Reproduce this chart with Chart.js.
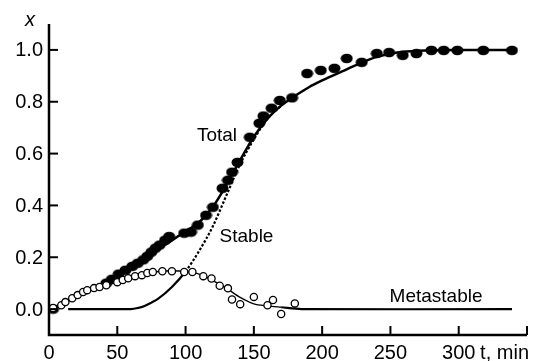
<!DOCTYPE html>
<html>
<head>
<meta charset="utf-8">
<script src="https://cdn.jsdelivr.net/npm/chart.js@4"></script>
<style>
  body { margin: 0; background: white; }
  #graph { width: 539px; height: 361px; }
</style>
</head>
<body>
<div id="graph"><canvas id="c" width="539" height="361"></canvas></div>
<script>
// total (filled points)
const totalT = [3, 42, 46, 51, 56, 61, 65, 69, 72, 75, 78, 81, 85, 88, 99, 104, 109, 115, 120, 127, 131, 134, 138, 147, 154, 157, 163, 169, 178, 189, 199, 209, 218, 229, 240, 249, 259, 269, 280, 289, 299, 318, 339];
const totalX = [0.0, 0.10, 0.115, 0.135, 0.15, 0.165, 0.177, 0.19, 0.204, 0.22, 0.235, 0.247, 0.266, 0.28, 0.293, 0.297, 0.324, 0.362, 0.393, 0.466, 0.497, 0.528, 0.566, 0.663, 0.717, 0.745, 0.775, 0.805, 0.815, 0.909, 0.921, 0.929, 0.967, 0.952, 0.986, 0.99, 0.979, 0.986, 0.998, 0.998, 0.998, 0.998, 0.998];
// total fit line
const totalFitT = [0, 10, 20, 30, 40, 50, 60, 70, 80, 90, 100, 110, 120, 130, 140, 150, 160, 170, 180, 190, 200, 215, 227, 240, 255, 270, 300, 340];
const totalFitX = [0, 0.02, 0.05, 0.075, 0.095, 0.125, 0.155, 0.19, 0.23, 0.265, 0.30, 0.335, 0.395, 0.48, 0.575, 0.665, 0.735, 0.785, 0.822, 0.855, 0.882, 0.918, 0.946, 0.973, 0.99, 0.997, 1.0, 1.0];
// stable curve
const stableT = [14, 60, 65, 70, 75, 80, 90, 100, 110, 120, 130, 140, 150, 160, 170];
const stableX = [0, 0, 0.004, 0.012, 0.025, 0.04, 0.085, 0.145, 0.225, 0.32, 0.44, 0.56, 0.655, 0.735, 0.785];
// metastable (open circles)
const metaT = [3, 9, 12, 17, 21, 25, 28, 33, 37, 42, 50, 54, 58, 63, 68, 72, 76, 83, 90, 99, 105, 113, 119, 125, 131, 134, 140, 150, 160, 164, 170, 180];
const metaX = [0.004, 0.015, 0.027, 0.042, 0.054, 0.066, 0.073, 0.081, 0.085, 0.092, 0.104, 0.112, 0.119, 0.127, 0.131, 0.139, 0.143, 0.146, 0.146, 0.143, 0.143, 0.127, 0.118, 0.09, 0.08, 0.037, 0.019, 0.047, 0.015, 0.035, -0.019, 0.022];
// metastable line
const metaFitT = [0, 10, 20, 30, 40, 50, 60, 70, 80, 90, 100, 110, 120, 130, 140, 150, 160, 170, 185, 339];
const metaFitX = [0, 0.02, 0.05, 0.075, 0.09, 0.105, 0.12, 0.135, 0.145, 0.148, 0.145, 0.135, 0.11, 0.08, 0.045, 0.02, 0.012, 0.007, 0, 0];

const yTicks = [0, 0.2, 0.4, 0.6, 0.8, 1.0];
const xTicks = [0, 50, 100, 150, 200, 250, 300, 350];
const xTickLabels = ["0", "50", "100", "150", "200", "250", "300", ""];

function pts(a, b) {
    return a.map(function (v, i) { return { x: v, y: b[i] }; });
}

// filled ellipse marker
const blob = document.createElement("canvas");
blob.width = 13; blob.height = 11;
const bctx = blob.getContext("2d");
bctx.fillStyle = "black";
bctx.beginPath();
bctx.ellipse(6.5, 5.5, 6, 4.8, 0, 0, Math.PI * 2);
bctx.fill();

const font = "Arial, 'Liberation Sans', sans-serif";

// axes, ticks and texts
const axesPlugin = {
    id: "axes",
    afterDraw(chart) {
        const ctx = chart.ctx;
        const xs = chart.scales.x, ys = chart.scales.y;
        const left = xs.getPixelForValue(0), right = xs.getPixelForValue(350);
        const top = ys.getPixelForValue(1.1), bottom = ys.getPixelForValue(-0.1);
        ctx.save();
        ctx.strokeStyle = "black";
        ctx.lineWidth = 2.5;
        ctx.beginPath();
        ctx.moveTo(left, top);
        ctx.lineTo(left, bottom);
        ctx.lineTo(right, bottom);
        ctx.stroke();
        ctx.lineWidth = 2;
        ctx.fillStyle = "black";
        ctx.font = "20px " + font;
        ctx.textAlign = "right";
        ctx.textBaseline = "middle";
        yTicks.forEach(function (v) {
            const y = ys.getPixelForValue(v);
            ctx.beginPath();
            ctx.moveTo(left, y);
            ctx.lineTo(left + 9, y);
            ctx.stroke();
            ctx.fillText(v.toFixed(1), left - 6, y + 1);
        });
        ctx.textAlign = "center";
        ctx.textBaseline = "top";
        xTicks.forEach(function (v, i) {
            const x = xs.getPixelForValue(v);
            ctx.beginPath();
            ctx.moveTo(x, bottom);
            ctx.lineTo(x, bottom - 9);
            ctx.stroke();
            ctx.fillText(xTickLabels[i], x, bottom + 8);
        });
        ctx.textAlign = "right";
        ctx.fillText("t, min", right + 2, bottom + 8);
        ctx.font = "italic 20px " + font;
        ctx.textAlign = "center";
        ctx.textBaseline = "middle";
        ctx.fillText("x", left - 19, top - 4);
        ctx.font = "19px " + font;
        const labels = [["Total", 123, 0.67], ["Stable", 144.6, 0.28], ["Metastable", 283.4, 0.046]];
        labels.forEach(function (l) {
            ctx.fillText(l[0], xs.getPixelForValue(l[1]), ys.getPixelForValue(l[2]));
        });
        ctx.restore();
    }
};

new Chart(document.getElementById("c"), {
    type: "scatter",
    data: {
        datasets: [
            {
                label: "Metastable",
                data: pts(metaT, metaX),
                showLine: false,
                pointStyle: "circle",
                pointRadius: 3.6,
                pointBorderWidth: 1.3,
                pointBorderColor: "black",
                pointBackgroundColor: "white",
                order: 0
            },
            {
                label: "Total",
                data: pts(totalT, totalX),
                showLine: false,
                pointStyle: blob,
                order: 1
            },
            {
                label: "Metastable fit",
                data: pts(metaFitT, metaFitX),
                showLine: true,
                borderColor: "black",
                borderWidth: 1.3,
                pointRadius: 0,
                tension: 0.3,
                segment: {
                    borderWidth: function (c) { return c.p0.parsed.x >= 170 ? 2.2 : 1.3; }
                },
                order: 2
            },
            {
                label: "Stable",
                data: pts(stableT, stableX),
                showLine: true,
                borderColor: "black",
                borderWidth: 2.2,
                pointRadius: 0,
                cubicInterpolationMode: "monotone",
                segment: {
                    borderDash: function (c) { return c.p0.parsed.y > 0.1 ? [2.5, 1.8] : undefined; }
                },
                order: 3
            },
            {
                label: "Total fit",
                data: pts(totalFitT, totalFitX),
                showLine: true,
                borderColor: "black",
                borderWidth: 2.5,
                pointRadius: 0,
                cubicInterpolationMode: "monotone",
                order: 4
            }
        ]
    },
    options: {
        responsive: false,
        animation: false,
        layout: { padding: { left: 49, right: 12, top: 24, bottom: 26 } },
        scales: {
            x: { type: "linear", min: 0, max: 350, display: false },
            y: { type: "linear", min: -0.1, max: 1.1, display: false }
        },
        plugins: {
            legend: { display: false },
            tooltip: { enabled: false }
        }
    },
    plugins: [axesPlugin]
});
</script>
</body>
</html>
